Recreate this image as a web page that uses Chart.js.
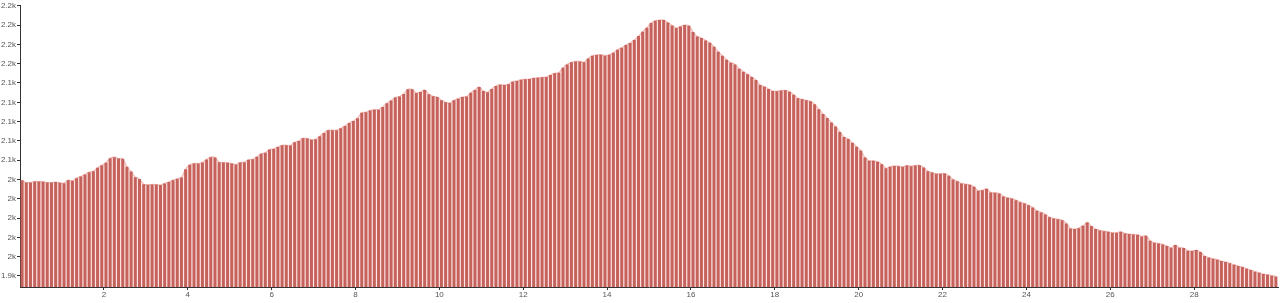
<!DOCTYPE html>
<html>
<head>
<meta charset="utf-8">
<script src="https://cdn.jsdelivr.net/npm/chart.js@4/dist/chart.umd.min.js"></script>
<style>
html,body{margin:0;padding:0;background:#fff;}
#c{display:block;}
</style>
</head>
<body>
<canvas id="c" width="1281" height="303"></canvas>
<script>
const values = [
2039.3,2036.9,2036.9,2037.9,2037.9,2037.6,2036.9,2036.9,2037.3,2036.6,
2036.2,2039.3,2038.6,2041.4,2043.1,2045.2,2047.6,2048.6,2052.1,2054.8,
2057.3,2062.1,2063.1,2061.7,2061.4,2053.1,2048.3,2042.4,2040.4,2035.2,
2034.5,2034.8,2034.8,2034.2,2035.9,2037.3,2039.3,2040.7,2042.1,2050.7,
2055.2,2056.6,2056.6,2057.6,2060.7,2063.1,2062.8,2057.9,2057.6,2057.3,
2056.6,2055.5,2057.6,2057.9,2060.4,2061.0,2063.5,2066.6,2067.6,2071.1,
2071.7,2073.8,2075.5,2075.5,2075.2,2078.6,2080.0,2082.8,2082.4,2081.1,
2081.7,2084.9,2088.3,2091.1,2091.1,2091.1,2093.1,2095.5,2098.6,2100.7,
2103.5,2109.3,2109.7,2111.4,2112.4,2112.4,2115.2,2119.0,2121.8,2124.9,
2125.9,2128.7,2133.5,2133.5,2129.7,2130.7,2132.8,2128.3,2126.2,2125.5,
2122.0,2120.0,2119.3,2122.1,2123.8,2125.5,2125.9,2130.0,2132.8,2135.9,
2131.7,2130.3,2133.8,2136.9,2138.3,2137.9,2138.6,2141.4,2142.1,2143.4,
2143.8,2144.1,2145.2,2145.5,2145.9,2146.2,2148.3,2150.0,2150.7,2155.9,
2159.3,2161.4,2162.4,2162.4,2161.4,2165.5,2168.3,2169.0,2169.3,2168.3,
2169.3,2171.4,2174.5,2176.6,2179.3,2181.4,2184.5,2188.6,2193.1,2197.3,
2202.1,2204.5,2205.2,2205.2,2202.8,2199.7,2196.9,2198.6,2200.0,2199.3,
2192.8,2188.3,2186.6,2184.1,2181.7,2177.6,2172.4,2168.3,2164.1,2161.0,
2159.3,2154.8,2151.7,2149.0,2146.2,2143.1,2137.9,2136.2,2133.8,2131.7,
2131.4,2132.1,2132.4,2131.0,2127.9,2124.1,2123.1,2122.1,2121.0,2117.9,
2112.8,2107.9,2103.8,2099.0,2094.8,2089.3,2084.1,2082.0,2078.0,2074.0,
2070.0,2062.8,2059.3,2059.3,2058.3,2055.9,2051.7,2053.1,2054.1,2053.8,
2053.1,2054.5,2053.8,2054.5,2054.8,2052.4,2048.6,2047.2,2045.9,2045.9,
2046.2,2043.8,2040.0,2038.3,2035.9,2035.2,2034.5,2032.4,2028.3,2028.9,
2030.3,2026.5,2026.2,2025.5,2022.4,2021.0,2020.3,2018.6,2016.5,2015.2,
2013.4,2011.0,2007.6,2005.9,2003.8,2001.0,1999.6,1998.9,1997.9,1994.5,
1989.3,1988.6,1989.6,1992.0,1995.5,1991.7,1988.6,1987.2,1986.5,1985.8,
1984.8,1984.8,1985.8,1984.1,1983.4,1983.1,1982.7,1981.0,1981.7,1976.5,
1974.5,1973.8,1972.7,1971.0,1969.3,1972.0,1969.3,1969.0,1966.2,1965.8,
1966.9,1964.8,1960.7,1959.0,1957.9,1956.9,1955.5,1954.5,1953.1,1951.7,
1950.3,1949.3,1947.6,1946.2,1944.5,1943.4,1942.0,1941.4,1940.3,1939.6
];
const binWidth = 0.1;
const categories = values.map((v, i) => +( (i + 0.5) * binWidth ).toFixed(2));
const xTicks = [2,4,6,8,10,12,14,16,18,20,22,24,26,28];
const yTicks = [1940,1960,1980,2000,2020,2040,2060,2080,2100,2120,2140,2160,2180,2200,2220];
const yTickLabels = ['1.9k','2k','2k','2k','2k','2k','2.1k','2.1k','2.1k','2.1k','2.1k','2.2k','2.2k','2.2k','2.2k'];
const xRange = [0, 30];
const yRange = [1928.6, 2220];

const points = categories.map((x, i) => ({x: x, y: values[i]}));
const axisColor = '#333';
const font = {family: 'Liberation Sans', size: 8};

new Chart(document.getElementById('c'), {
  data: {
    datasets: [
      {
        type: 'bar',
        data: points,
        backgroundColor: '#c4625b',
        borderWidth: 0,
        categoryPercentage: 1.0,
        barPercentage: 0.72,
        order: 1
      },
      {
        type: 'line',
        data: points,
        borderColor: '#f2b9b6',
        borderWidth: 1.2,
        backgroundColor: '#fde6e5',
        fill: 'start',
        pointRadius: 0,
        tension: 0.3,
        order: 2
      }
    ]
  },
  options: {
    responsive: false,
    animation: false,
    devicePixelRatio: 1,
    layout: {padding: {top: 4.7, right: 3, left: 0, bottom: 0}},
    plugins: {legend: {display: false}, tooltip: {enabled: false}},
    scales: {
      x: {
        type: 'linear',
        min: xRange[0], max: xRange[1],
        offset: false,
        afterBuildTicks: s => { s.ticks = xTicks.map(v => ({value: v})); },
        afterFit: s => { s.height = 16; },
        grid: {display: true, offset: false, drawOnChartArea: false, drawTicks: true, tickLength: 3, color: axisColor},
        border: {display: true, color: axisColor, width: 1},
        ticks: {font: font, color: '#555', padding: 0, maxRotation: 0, autoSkip: false}
      },
      y: {
        type: 'linear',
        min: yRange[0], max: yRange[1],
        afterBuildTicks: s => { s.ticks = yTicks.map(v => ({value: v})); },
        afterFit: s => { s.width = 20; },
        grid: {display: true, offset: false, drawOnChartArea: false, drawTicks: true, tickLength: 3, color: axisColor},
        border: {display: true, color: axisColor, width: 1},
        ticks: {
          font: font, color: '#555', padding: 1, autoSkip: false,
          callback: (v) => { const k = yTicks.indexOf(v); return k >= 0 ? yTickLabels[k] : ''; }
        }
      }
    }
  }
});
</script>
</body>
</html>
